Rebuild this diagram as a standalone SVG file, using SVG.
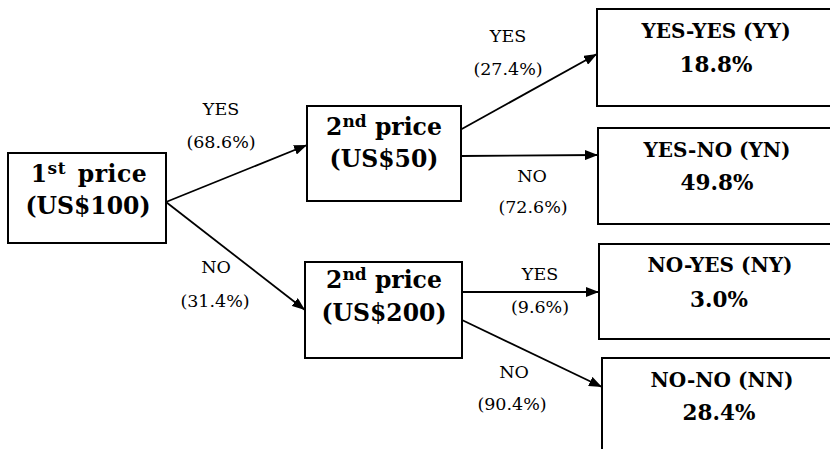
<svg xmlns="http://www.w3.org/2000/svg" width="830" height="449" viewBox="0 0 830 449">
<defs>
<style>
.box{fill:#fff;stroke:#000;stroke-width:2}
.bt{font-family:"DejaVu Serif","Liberation Serif",serif;font-weight:bold;font-size:23.5px;text-anchor:middle;fill:#000}
.ot{font-family:"DejaVu Serif","Liberation Serif",serif;font-weight:bold;font-size:20px;text-anchor:middle;fill:#000}
.op{font-family:"DejaVu Serif","Liberation Serif",serif;font-weight:bold;font-size:21.5px;text-anchor:middle;fill:#000}
.lb{font-family:"DejaVu Serif","Liberation Serif",serif;font-size:17.5px;text-anchor:middle;fill:#000}
.sup{font-size:17px}
.pr{word-spacing:3px;letter-spacing:0.5px}
.cn{stroke:#000;stroke-width:1.8;fill:none;marker-end:url(#ah)}
</style>
<marker id="ah" markerWidth="14" markerHeight="10" refX="13" refY="5" orient="auto" markerUnits="userSpaceOnUse">
<path d="M0,0 L13,5 L0,10 Z" fill="#000"/>
</marker>
</defs>
<rect width="830" height="449" fill="#fff"/>
<g id="connectors">
<line class="cn" x1="166" y1="202" x2="307" y2="145"/>
<line class="cn" x1="166" y1="202" x2="305" y2="310"/>
<line class="cn" x1="460" y1="130" x2="597" y2="54"/>
<line class="cn" x1="461" y1="156" x2="598" y2="155"/>
<line class="cn" x1="462" y1="292" x2="599" y2="292"/>
<line class="cn" x1="462" y1="320" x2="602" y2="387"/>
</g>
<g id="labels">
<text class="lb" x="221" y="115">YES</text>
<text class="lb" x="221" y="148">(68.6%)</text>
<text class="lb" x="216" y="273">NO</text>
<text class="lb" x="215" y="307">(31.4%)</text>
<text class="lb" x="508" y="42">YES</text>
<text class="lb" x="508" y="75">(27.4%)</text>
<text class="lb" x="532" y="182">NO</text>
<text class="lb" x="533" y="213">(72.6%)</text>
<text class="lb" x="540" y="280">YES</text>
<text class="lb" x="540" y="313">(9.6%)</text>
<text class="lb" x="514" y="378">NO</text>
<text class="lb" x="512" y="410">(90.4%)</text>
</g>
<g id="first">
<rect class="box" x="8" y="153" width="158" height="90"/>
<text class="bt pr" x="89" y="182">1<tspan class="sup" dy="-8">st</tspan><tspan dy="8"> price</tspan></text>
<text class="bt" x="88" y="214">(US$100)</text>
</g>
<g id="second50">
<rect class="box" x="307" y="106" width="154" height="95"/>
<text class="bt" x="384" y="135">2<tspan class="sup" dy="-8">nd</tspan><tspan dy="8"> price</tspan></text>
<text class="bt" x="384" y="167">(US$50)</text>
</g>
<g id="second200">
<rect class="box" x="305" y="262" width="157" height="96"/>
<text class="bt" x="384" y="288">2<tspan class="sup" dy="-8">nd</tspan><tspan dy="8"> price</tspan></text>
<text class="bt" x="384" y="321">(US$200)</text>
</g>
<g id="yy">
<rect class="box" x="597" y="9" width="240" height="97"/>
<text class="ot" x="716" y="38">YES-YES (YY)</text>
<text class="op" x="716" y="72">18.8%</text>
</g>
<g id="yn">
<rect class="box" x="598" y="128" width="240" height="96"/>
<text class="ot" x="717" y="157">YES-NO (YN)</text>
<text class="op" x="717" y="190">49.8%</text>
</g>
<g id="ny">
<rect class="box" x="599" y="244" width="240" height="95"/>
<text class="ot" x="720" y="272">NO-YES (NY)</text>
<text class="op" x="719" y="307">3.0%</text>
</g>
<g id="nn">
<rect class="box" x="602" y="358" width="240" height="110"/>
<text class="ot" x="722" y="387">NO-NO (NN)</text>
<text class="op" x="719" y="420">28.4%</text>
</g>
</svg>
